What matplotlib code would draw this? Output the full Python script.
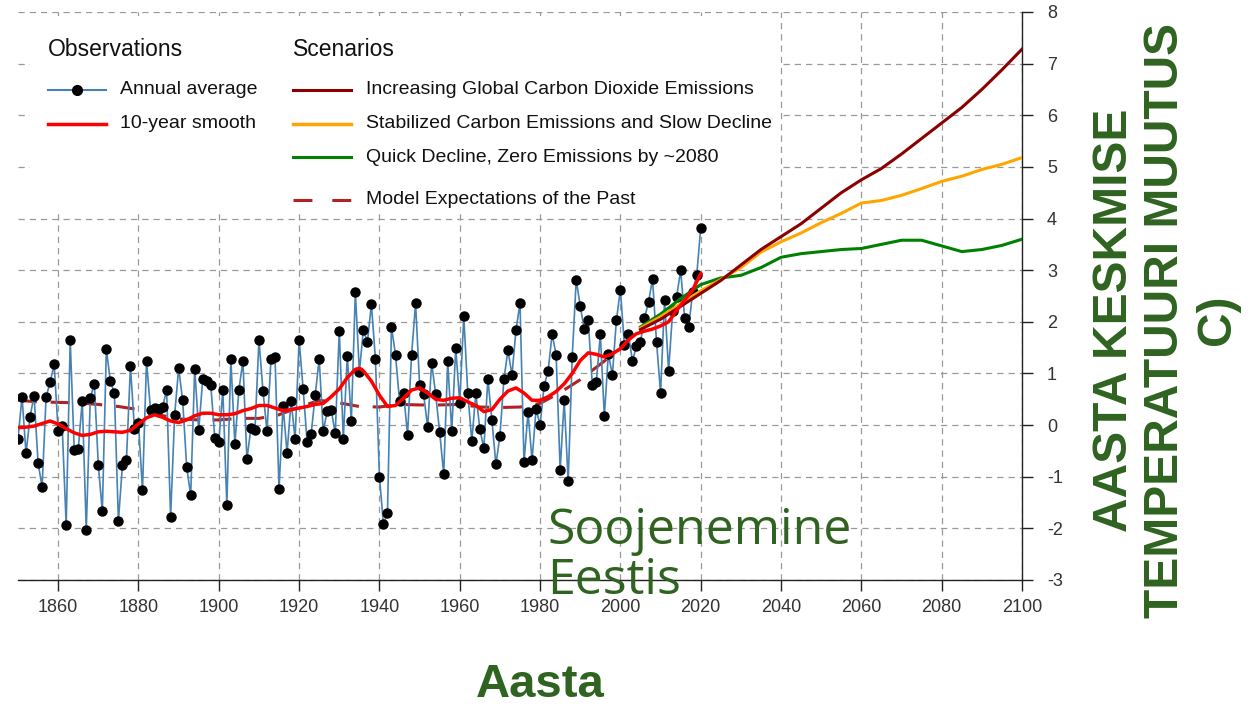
import numpy as np
import matplotlib
matplotlib.use("Agg")
import matplotlib.pyplot as plt
from matplotlib.lines import Line2D
from matplotlib.patches import Rectangle

plt.rcParams['font.family'] = ['Liberation Sans', 'DejaVu Sans']
plt.rcParams['axes.unicode_minus'] = False

# Aastakeskmise temperatuuri hälve (°C), 1850-2020
years = np.arange(1850, 2021)
annual = [
    -0.27, 0.55, -0.55, 0.16, 0.57, -0.73, -1.2, 0.55, 0.83, 1.18,
    -0.12, -0.02, -1.94, 1.65, -0.48, -0.47, 0.47, -2.03, 0.52, 0.8,
    -0.78, -1.67, 1.47, 0.85, 0.62, -1.86, -0.78, -0.68, 1.14, -0.08,
    0.04, -1.26, 1.24, 0.29, 0.33, 0.31, 0.35, 0.68, -1.78, 0.19,
    1.1, 0.48, -0.81, -1.36, 1.09, -0.1, 0.89, 0.85, 0.78, -0.25,
    -0.33, 0.68, -1.55, 1.28, -0.37, 0.68, 1.24, -0.66, -0.06, -0.1,
    1.65, 0.66, -0.12, 1.28, 1.32, -1.24, 0.37, -0.54, 0.47, -0.27,
    1.65, 0.7, -0.33, -0.17, 0.58, 1.28, -0.12, 0.27, 0.29, -0.16,
    1.82, -0.27, 1.34, 0.08, 2.58, 1.03, 1.84, 1.61, 2.34, 1.28,
    -1.0, -1.92, -1.7, 1.9, 1.36, 0.47, 0.62, -0.19, 1.36, 2.36,
    0.78, 0.6, -0.04, 1.2, 0.6, -0.14, -0.95, 1.24, -0.12, 1.49,
    0.43, 2.11, 0.62, -0.31, 0.62, -0.08, -0.45, 0.89, 0.1, -0.76,
    -0.21, 0.89, 1.45, 0.97, 1.84, 2.36, -0.72, 0.25, -0.68, 0.31,
    0.0, 0.76, 1.05, 1.76, 1.36, -0.87, 0.48, -1.09, 1.32, 2.81,
    2.31, 1.86, 2.03, 0.78, 0.83, 1.76, 0.17, 1.38, 0.97, 2.03,
    2.62, 1.55, 1.76, 1.24, 1.53, 1.61, 2.07, 2.38, 2.83, 1.61,
    0.62, 2.42, 1.05, 2.2, 2.48, 3.0, 2.07, 1.9, 2.58, 2.9, 3.82,
]

# 10-aastane silumine
smooth_years = [
    1850, 1852, 1854, 1856, 1858, 1860, 1862, 1864, 1866, 1868,
    1870, 1872, 1874, 1876, 1878, 1880, 1882, 1884, 1886, 1888,
    1890, 1892, 1894, 1896, 1898, 1900, 1902, 1904, 1906, 1908,
    1910, 1912, 1914, 1916, 1918, 1920, 1922, 1924, 1926, 1928,
    1930, 1932, 1934, 1935, 1936, 1938, 1940, 1942, 1944, 1946,
    1948, 1950, 1952, 1954, 1956, 1958, 1960, 1962, 1964, 1966,
    1968, 1970, 1972, 1974, 1976, 1978, 1980, 1982, 1984, 1986,
    1988, 1990, 1992, 1994, 1996, 1998, 2000, 2002, 2004, 2006,
    2008, 2010, 2012, 2014, 2016, 2018, 2020,
]
smooth = [
    -0.05, -0.04, -0.02, 0.03, 0.08, 0.02, -0.07, -0.15, -0.2, -0.18,
    -0.13, -0.12, -0.13, -0.14, -0.1, 0.02, 0.14, 0.2, 0.15, 0.08,
    0.05, 0.1, 0.18, 0.23, 0.23, 0.2, 0.2, 0.22, 0.28, 0.32,
    0.38, 0.38, 0.33, 0.28, 0.3, 0.33, 0.36, 0.4, 0.42, 0.55,
    0.7, 0.92, 1.08, 1.1, 1.05, 0.85, 0.58, 0.36, 0.38, 0.52,
    0.68, 0.72, 0.62, 0.5, 0.48, 0.52, 0.53, 0.45, 0.38, 0.26,
    0.3, 0.5, 0.66, 0.72, 0.62, 0.48, 0.48, 0.55, 0.65, 0.8,
    1.0, 1.25, 1.4, 1.37, 1.32, 1.38, 1.48, 1.65, 1.77, 1.82,
    1.86, 1.92, 2.0, 2.22, 2.42, 2.62, 2.93,
]

# Mudelite ootused minevikule
model_years = [1850, 1855, 1860, 1865, 1870, 1875, 1880, 1885, 1890, 1895,
               1900, 1905, 1910, 1915, 1920, 1925, 1930, 1935, 1940, 1945,
               1950, 1955, 1960, 1965, 1970, 1975, 1980, 1985, 1990, 1995,
               2000]
model_past = [0.48, 0.45, 0.44, 0.43, 0.4, 0.36, 0.3, 0.2, 0.12, 0.1,
              0.1, 0.13, 0.13, 0.2, 0.35, 0.48, 0.43, 0.36, 0.35, 0.4,
              0.39, 0.39, 0.4, 0.35, 0.34, 0.35, 0.42, 0.63, 0.88, 1.18,
              1.48]

# Stsenaariumid 2005-2100
scen_years = np.arange(2005, 2101, 5)
scen_high = [1.85, 2.05, 2.3, 2.55, 2.8, 3.1, 3.4, 3.65, 3.9, 4.2,
             4.5, 4.75, 4.97, 5.25, 5.55, 5.85, 6.15, 6.5, 6.88, 7.28]
scen_mid = [1.88, 2.1, 2.35, 2.6, 2.82, 3.05, 3.35, 3.55, 3.72, 3.92,
            4.1, 4.3, 4.35, 4.45, 4.58, 4.72, 4.82, 4.95, 5.05, 5.18]
scen_low = [1.9, 2.15, 2.45, 2.72, 2.85, 2.9, 3.05, 3.25, 3.32, 3.36,
            3.4, 3.42, 3.5, 3.58, 3.58, 3.47, 3.36, 3.4, 3.48, 3.6]

W, H = 1256, 706
fig = plt.figure(figsize=(W / 100, H / 100), dpi=100)


def fx(px):
    return px / W


def fy(py):
    return 1 - py / H


ax = fig.add_axes([fx(18), fy(580), fx(1022) - fx(18), fy(12) - fy(580)])

C_BLUE = '#4682b4'
C_SMOOTH = '#ff0000'
C_HIGH = '#8b0000'
C_MID = '#ffa500'
C_LOW = '#008000'
C_MODEL = '#b22222'
GREEN_TXT = '#2f6320'

ax.plot(model_years, model_past, color=C_MODEL, lw=2.2, dashes=(6.2, 4.5), zorder=3)
ax.plot(years, annual, color=C_BLUE, lw=1.2, marker='o', ms=6.5,
        mfc='black', mec='black', zorder=4)
ax.plot(scen_years, scen_low, color=C_LOW, lw=2.2, zorder=5)
ax.plot(scen_years, scen_mid, color=C_MID, lw=2.2, zorder=5)
ax.plot(scen_years, scen_high, color=C_HIGH, lw=2.2, zorder=5)
ax.plot(smooth_years, smooth, color=C_SMOOTH, lw=2.5, zorder=6)

ax.set_xlim(1850, 2100)
ax.set_ylim(-3, 8)
ax.set_xticks(np.arange(1860, 2101, 20))
ax.set_yticks(np.arange(-3, 9, 1))
ax.yaxis.tick_right()
ax.grid(True, color='#999999', lw=0.9, dashes=(5, 4))
ax.set_axisbelow(True)
for side in ['top', 'left']:
    ax.spines[side].set_visible(False)
for side in ['right', 'bottom']:
    ax.spines[side].set_color('#222222')
    ax.spines[side].set_linewidth(1.0)
ax.tick_params(axis='both', direction='out', length=8, width=1.0,
               color='#222222', labelsize=13, labelcolor='#333333')
ax.tick_params(axis='y', pad=10)
ax.tick_params(axis='x', pad=6)

# Legendi taust
fig.add_artist(Rectangle((fx(30), fy(214)), fx(780) - fx(30), fy(16) - fy(214),
                         facecolor='white', edgecolor='none', zorder=1))

# Legendid
fig.text(fx(48), fy(50), 'Observations', fontsize=16.5, va='center', color='#111111')
fig.text(fx(293), fy(50), 'Scenarios', fontsize=16.5, va='center', color='#111111')

obs_items = [
    (90, 'Annual average', dict(color=C_BLUE, lw=1.5)),
    (124, '10-year smooth', dict(color=C_SMOOTH, lw=2.5)),
]
for py, label, style in obs_items:
    fig.add_artist(Line2D([fx(48), fx(106)], [fy(py), fy(py)], **style))
    fig.text(fx(120), fy(py), label, fontsize=14, va='center', color='#111111')
fig.add_artist(Line2D([fx(77)], [fy(90)], marker='o', ms=7, mfc='black',
                      mec='black', ls='none'))

scen_items = [
    (90, 'Increasing Global Carbon Dioxide Emissions', dict(color=C_HIGH, lw=2.2)),
    (124, 'Stabilized Carbon Emissions and Slow Decline', dict(color=C_MID, lw=2.5)),
    (157, 'Quick Decline, Zero Emissions by ~2080', dict(color=C_LOW, lw=2.2)),
    (200, 'Model Expectations of the Past', dict(color=C_MODEL, lw=2.2, dashes=(6.2, 6.5))),
]
for py, label, style in scen_items:
    fig.add_artist(Line2D([fx(293), fx(351)], [fy(py), fy(py)], **style))
    fig.text(fx(366), fy(py), label, fontsize=14, va='center', color='#111111')

# Pealkirjad
for py, word in [(544, 'Soojenemine'), (594, 'Eestis')]:
    fig.text(fx(547), fy(py), word, fontsize=36, color=GREEN_TXT,
             family=['Open Sans', 'DejaVu Sans'], ha='left', va='baseline')
fig.text(fx(540), fy(685), 'Aasta', fontsize=34, fontweight='bold',
         color=GREEN_TXT, ha='center', va='center')
fig.text(fx(1166), fy(320), 'AASTA KESKMISE\nTEMPERATUURI MUUTUS\nC)',
         fontsize=34.5, fontweight='bold', color=GREEN_TXT, rotation=90,
         ha='center', va='center', multialignment='center', linespacing=1.18)

fig.savefig('out.png', dpi=100)
